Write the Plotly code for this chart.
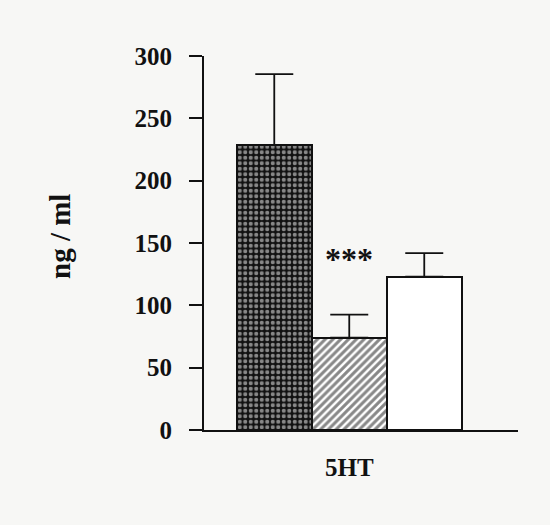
import plotly.graph_objects as go

# Serotonin (5HT) concentration per group
groups = [0, 1, 2]
values = [228.5, 74.0, 123.0]
sem_upper = [57.0, 18.5, 18.8]
y_ticks = [0, 50, 100, 150, 200, 250, 300]
significance = "***"
category_label = "5HT"
y_title = "ng / ml"

FONT = "Liberation Serif, Times New Roman, serif"
BG = "#f7f7f5"
INK = "#111111"

patterns = [
    dict(shape=".", fgcolor="white", bgcolor=INK, size=5.5, solidity=0.45),
    dict(shape="/", fgcolor=INK, bgcolor="white", size=5.5, solidity=0.55),
    dict(shape="", fgcolor="white", bgcolor="white"),
]

fig = go.Figure()
for g, v, e, p in zip(groups, values, sem_upper, patterns):
    fig.add_trace(go.Bar(
        x=[g], y=[v], width=1.0,
        marker=dict(color="white", pattern=p,
                    line=dict(color=INK, width=2)),
        error_y=dict(type="data", symmetric=False, array=[e], arrayminus=[0],
                     color=INK, thickness=1.8, width=19),
        showlegend=False,
    ))

# significance marker over the second group
fig.add_annotation(x=groups[1], y=values[1] + sem_upper[1], xref="x", yref="y",
                   text=f"<b>{significance}</b>", showarrow=False,
                   yanchor="bottom", yshift=36,
                   font=dict(family=FONT, size=32, color=INK))

# category label under the axis
fig.add_annotation(x=groups[1], y=0, xref="x", yref="paper",
                   text=f"<b>{category_label}</b>", showarrow=False,
                   yanchor="middle", yshift=-37,
                   font=dict(family=FONT, size=25, color=INK))

# rotated y title
fig.add_annotation(x=0, y=0.5, xref="paper", yref="paper",
                   text=f"<b>{y_title}</b>", showarrow=False, textangle=-90,
                   xanchor="center", yanchor="middle", xshift=-144,
                   yshift=6,
                   font=dict(family=FONT, size=29, color=INK))

fig.update_layout(
    width=550, height=525,
    margin=dict(l=204, r=32, t=56, b=95),
    paper_bgcolor=BG, plot_bgcolor=BG,
    bargap=0, barmode="overlay",
    font=dict(family=FONT, color=INK),
)
fig.update_xaxes(range=[-0.937, 3.25], showline=True, linecolor=INK,
                 linewidth=2, showticklabels=False, ticks="", showgrid=False,
                 zeroline=False)
fig.update_yaxes(range=[0, 300], tickvals=y_ticks, showline=True,
                 linecolor=INK, linewidth=2, ticks="outside", ticklen=13,
                 tickwidth=2, tickcolor=INK, showgrid=False, zeroline=False,
                 ticklabelstandoff=12,
                 tickfont=dict(family=FONT, size=25, color=INK, weight="bold"))

fig.write_html("out.html")
